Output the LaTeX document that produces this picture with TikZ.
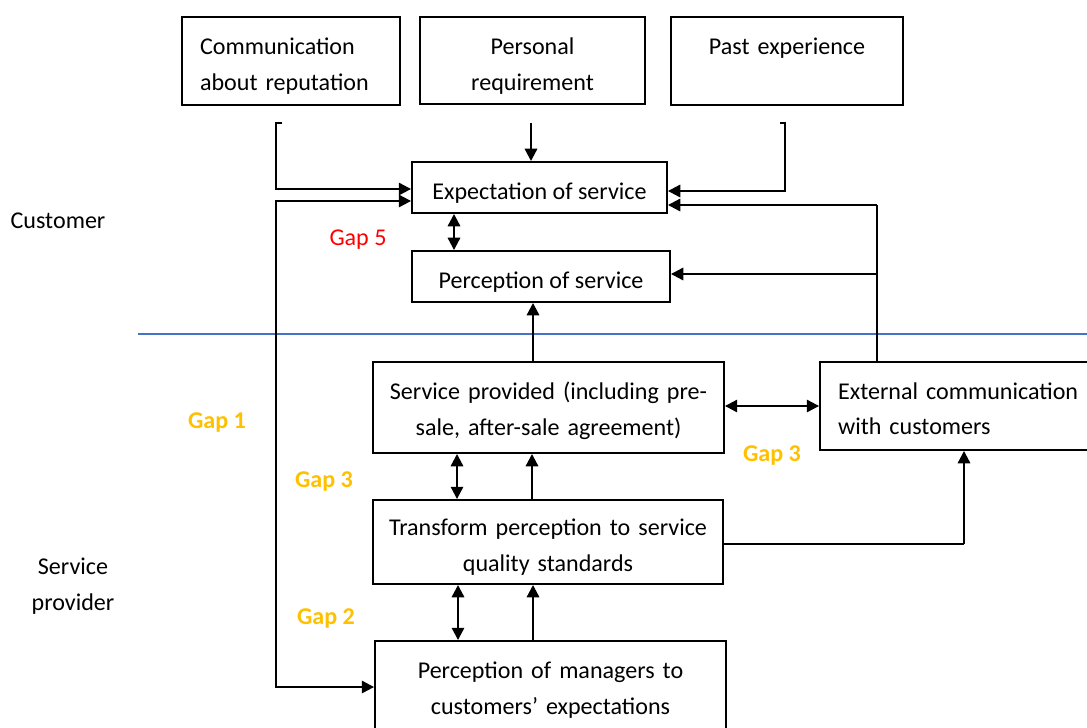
\documentclass[tikz,border=0pt]{standalone}
\usepackage{fontspec}
\setmainfont{Carlito}
\usetikzlibrary{arrows.meta}
\definecolor{gapgold}{HTML}{FFC000}
\definecolor{gapred}{HTML}{FF0000}
\definecolor{divider}{HTML}{4472C4}
\begin{document}
\begin{tikzpicture}[x=0.02cm,y=-0.02cm,
  font=\fontsize{13.7}{20.4}\selectfont,
  box/.style={draw, line width=1.1pt, inner sep=0pt, align=center},
  leftbox/.style={draw, line width=1.1pt, inner ysep=0pt, inner xsep=0.36cm, align=left},
  % a tall invisible strut on the first line pushes the text block down
  lower/.style={execute at begin node={\rule{0pt}{#1}}},
  conn/.style={line width=1.25pt},
  arr/.style={conn, -{Triangle[length=7pt,width=7pt]}},
  dbl/.style={conn, {Triangle[length=7pt,width=7pt]}-{Triangle[length=7pt,width=7pt]}},
  thinline/.style={line width=0.6pt},
  gap/.style={font=\fontsize{13.7}{20.4}\selectfont\bfseries, text=gapgold},
  side/.style={align=center}
]
\useasboundingbox (0,0) rectangle (1087,727);

% customer-side inputs
\node[leftbox, lower=15.6pt, minimum width=4.36cm, minimum height=1.76cm, text width=3.64cm] (rep) at (291,61)
  {Communication\\about reputation};
\node[box, lower=15.6pt, text width=4.5cm, minimum height=1.74cm] (req) at (532.5,60.5)
  {Personal\\requirement};
\node[box, lower=19pt, text width=4.64cm, minimum height=1.76cm] (past) at (787,61)
  {Past experience\\\strut};

% customer boxes
\node[box, lower=15.6pt, minimum width=5.1cm, minimum height=1.02cm] (exp) at (539.5,187.5) {Expectation of service};
\node[box, lower=15.6pt, minimum width=5.16cm, minimum height=1.02cm] (perc) at (541,276.5) {Perception of service};

% provider boxes
\node[box, lower=13.5pt, text width=7.02cm, minimum height=1.82cm] (svc) at (548.5,407.5)
  {Service provided (including pre-\\sale, after-sale agreement)};
\node[box, lower=15.6pt, text width=7.0cm, minimum height=1.68cm] (tr) at (548,542)
  {Transform perception to service\\quality standards};
\node[box, text width=7.02cm, minimum height=1.98cm] (mgr) at (550.5,690.5)
  {Perception of managers to\\customers’ expectations};
\node[leftbox, lower=12.7pt, minimum width=5.6cm, minimum height=1.76cm, text width=4.88cm] (ext) at (960,406)
  {External communication\\with customers};

% divider between customer and provider
\coordinate (divL) at (138,334);
\coordinate (divR) at (1087,334);
\draw[divider, line width=0.7pt] (divL) -- (divR);

% side labels
\node (cust) at (58,221) {Customer};
\node[side] (prov) at (73,586) {Service\\provider};

% gap labels
\node[text=gapred] (g5) at (358,240) {Gap 5};
\node[gap] (g1) at (217,422) {Gap 1};
\node[gap] (g3a) at (324,481) {Gap 3};
\node[gap] (g3b) at (772,455) {Gap 3};
\node[gap] (g2) at (326,618) {Gap 2};

% inputs into expectation
\coordinate (repTick) at (282,123);
\coordinate (repTop) at (276,123);
\draw[arr] (repTick) -- (repTop) |- (exp.west |- 0,189);
\coordinate (reqTail) at (531,123);
\draw[arr] (reqTail) -- (exp.north -| reqTail);
\coordinate (pastTick) at (780,123);
\coordinate (pastTop) at (785,123);
\draw[arr] (pastTick) -- (pastTop) |- (exp.east |- 0,191);

% gap 1 loop between managers and expectation
\coordinate (loopX) at (276,201);
\draw[dbl] (mgr.west |- 0,687) -| (loopX) -- (exp.west |- loopX);

% external communication feeding back to the customer
\coordinate (extUp) at (877,205);
\coordinate (extMid) at (877,274);
\draw[thinline] (ext.north -| extUp) -- (extUp);
\draw[arr] (extUp) -- (exp.east |- extUp);
\draw[arr] (extMid) -- (perc.east |- extMid);

% gap 5
\draw[dbl] (exp.south -| 454,0) -- (perc.north -| 454,0);

% service provided up to perception
\draw[arr] (svc.north -| 533,0) -- (perc.south -| 533,0);

% service provided <-> external communication
\draw[dbl] (svc.east |- 0,406) -- (ext.west |- 0,406);

% transform <-> service provided
\draw[dbl] (tr.north -| 457,0) -- (svc.south -| 457,0);
\draw[arr] (tr.north -| 532,0) -- (svc.south -| 532,0);

% transform to external communication
\coordinate (trCorner) at (964,544);
\draw[thinline] (tr.east |- trCorner) -- (trCorner);
\draw[arr] (trCorner) -- (ext.south -| trCorner);

% managers <-> transform
\draw[dbl] (mgr.north -| 458,0) -- (tr.south -| 458,0);
\draw[arr] (mgr.north -| 533,0) -- (tr.south -| 533,0);
\end{tikzpicture}
\end{document}
